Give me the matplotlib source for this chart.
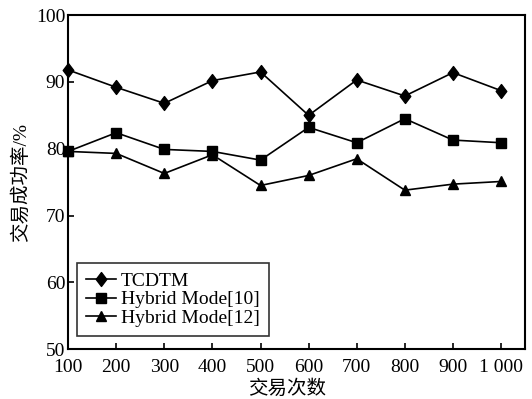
import matplotlib
matplotlib.use("Agg")
import matplotlib.pyplot as plt
from matplotlib.path import Path

plt.rcParams["font.family"] = ["Liberation Serif", "Noto Sans CJK SC"]

# --- Data ---
trade_counts = [100, 200, 300, 400, 500, 600, 700, 800, 900, 1000]
tick_labels = ["100", "200", "300", "400", "500", "600", "700", "800", "900", "1 000"]
tcdtm = [91.8, 89.2, 86.8, 90.2, 91.5, 85.0, 90.3, 87.9, 91.4, 88.7]
hybrid_10 = [79.6, 82.4, 79.9, 79.6, 78.3, 83.2, 80.9, 84.5, 81.3, 80.9]
hybrid_12 = [79.6, 79.3, 76.3, 79.1, 74.5, 76.0, 78.5, 73.8, 74.7, 75.1]

fig = plt.figure(figsize=(5.32, 3.99), dpi=100)
ax = fig.add_axes([0.128, 0.125, 0.859, 0.837])

# slightly narrow diamond, like the original
diamond = Path([(0, 1), (0.76, 0), (0, -1), (-0.76, 0), (0, 1)],
               [Path.MOVETO, Path.LINETO, Path.LINETO, Path.LINETO, Path.CLOSEPOLY])

line_kw = dict(color="black", linewidth=1.2, markeredgecolor="black",
               markerfacecolor="black", clip_on=False, zorder=3)
ax.plot(trade_counts, tcdtm, marker=diamond, markersize=10, label="TCDTM", **line_kw)
ax.plot(trade_counts, hybrid_10, marker="s", markersize=7, label="Hybrid Mode[10]", **line_kw)
ax.plot(trade_counts, hybrid_12, marker="^", markersize=7.5, label="Hybrid Mode[12]", **line_kw)

ax.set_xlim(100, 1050)
ax.set_ylim(50, 100)
ax.set_xticks(trade_counts)
ax.set_xticklabels(tick_labels)
ax.set_yticks([50, 60, 70, 80, 90, 100])
ax.tick_params(direction="in", length=4, width=1.2, labelsize=14,
               top=False, right=False)
ax.tick_params(axis="x", pad=7)
ax.tick_params(axis="y", pad=2)

for s in ax.spines.values():
    s.set_linewidth(1.5)

ax.set_xlabel("交易次数", fontsize=14)
ax.xaxis.set_label_coords(0.48, -0.09)
ax.set_ylabel("交易成功率/%", fontsize=14, labelpad=4)

leg = ax.legend(loc="lower left", bbox_to_anchor=(0.02, 0.04), fontsize=14,
                frameon=True, fancybox=False, edgecolor="black",
                handlelength=1.55, handletextpad=0.25, borderpad=0.45,
                labelspacing=0.05, borderaxespad=0)
leg.get_frame().set_linewidth(1.2)

fig.savefig("out.png", dpi=100)
